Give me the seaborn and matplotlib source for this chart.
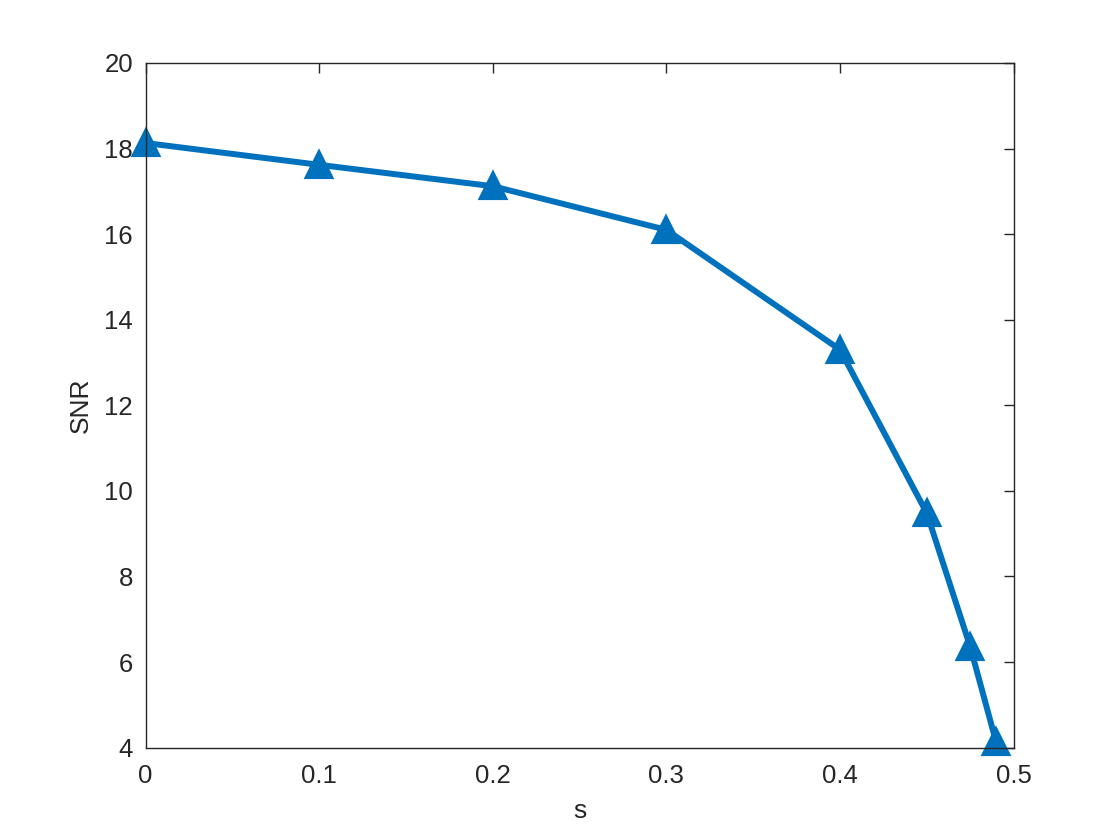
import pandas as pd
import matplotlib
matplotlib.use('Agg')
import matplotlib.pyplot as plt
import seaborn as sns

# data
s_values = [0, 0.1, 0.2, 0.3, 0.4, 0.45, 0.475, 0.49]
snr_values = [18.13, 17.62, 17.12, 16.1, 13.3, 9.48, 6.36, 4.12]
x_ticks = [0, 0.1, 0.2, 0.3, 0.4, 0.5]
y_ticks = [4, 6, 8, 10, 12, 14, 16, 18, 20]

df = pd.DataFrame({'s': s_values, 'SNR': snr_values})

sns.set_style('white')
plt.rcParams['font.family'] = ['Liberation Sans', 'DejaVu Sans']

fig = plt.figure(figsize=(11.2, 8.4), dpi=100)
ax = fig.add_axes([0.13, 0.11, 0.775, 0.815])

sns.lineplot(data=df, x='s', y='SNR', ax=ax, color='#0072BD', linewidth=4.3,
             marker='^', markersize=17, markerfacecolor='#0072BD',
             markeredgecolor='#0072BD', markeredgewidth=3, clip_on=False)

ax.set_xlim(0, 0.5)
ax.set_ylim(4, 20)
ax.set_xticks(x_ticks)
ax.set_xticklabels([f'{t:g}' for t in x_ticks])
ax.set_yticks(y_ticks)
ax.tick_params(direction='in', length=7, width=1, colors='#262626',
               labelsize=18.5, top=True, right=True)
ax.tick_params(axis='x', pad=12)
ax.tick_params(axis='y', pad=9)
for side in ax.spines.values():
    side.set_color('#262626')
    side.set_linewidth(1)
ax.set_xlabel('s', fontsize=19, color='#262626', labelpad=8)
ax.set_ylabel('SNR', fontsize=19, color='#262626', labelpad=8)

fig.savefig('out.png', dpi=100)
